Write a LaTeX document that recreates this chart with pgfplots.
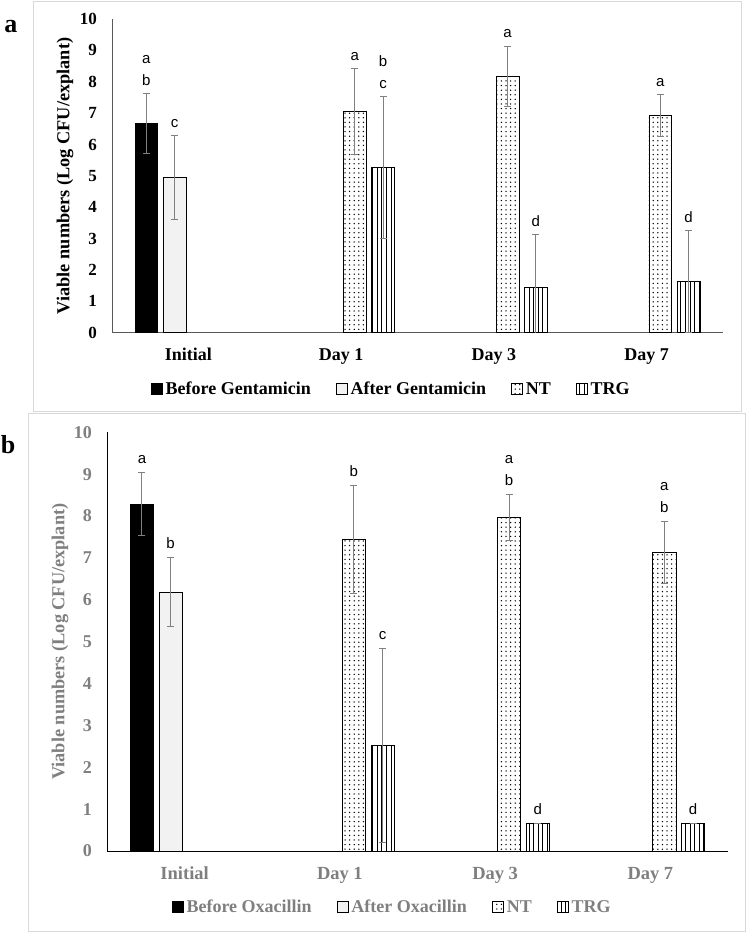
\documentclass[border=0pt]{standalone}
\usepackage{fontspec}
\setmainfont{Liberation Serif}
\newfontfamily\lettersf{Liberation Sans}
\usepackage{pgfplots}
\usepackage{pgfplotstable}
\pgfplotsset{compat=1.18}
\usetikzlibrary{patterns.meta}

\definecolor{axgray}{HTML}{595959}
\definecolor{txtgray}{HTML}{7F7F7F}
\definecolor{errgray}{HTML}{808080}
\definecolor{lightfill}{HTML}{F2F2F2}
\definecolor{framegray}{HTML}{D9D9D9}

% Panel a: Gentamicin
\pgfplotstableread{
x y err
0 6.67 0.96
}\Abefore
\pgfplotstableread{
x y err
0 4.94 1.34
}\Aafter
\pgfplotstableread{
x y err
1 7.04 1.37
2 8.18 0.96
3 6.93 0.67
}\Ant
\pgfplotstableread{
x y err
1 5.27 2.25
2 1.45 1.68
3 1.64 1.63
}\Atrg

% Panel b: Oxacillin
\pgfplotstableread{
x y err
0 8.29 0.76
}\Bbefore
\pgfplotstableread{
x y err
0 6.18 0.82
}\Bafter
\pgfplotstableread{
x y err
1 7.44 1.28
2 7.97 0.55
3 7.12 0.74
}\Bnt
\pgfplotstableread{
x y err
1 2.52 2.31
2 0.66 0
3 0.66 0
}\Btrg

\pgfplotsset{
  panel/.style={
    scale only axis, ybar,
    ymin=0, ymax=10, xmin=-0.5, xmax=3.5,
    xtick={0,1,2,3}, xticklabels={Initial,Day 1,Day 3,Day 7},
    ytick={0,1,...,10},
    axis x line*=bottom, axis y line*=left,
    major tick length=0pt,
    bar width=0.15,
    /pgf/number format/assume math mode=true,
    yticklabel style={font=\bfseries\fontsize{17}{17}\selectfont, anchor=east, inner sep=0pt, xshift=-15pt},
    xticklabel style={font=\bfseries\fontsize{18}{18}\selectfont, anchor=base, inner sep=0pt, yshift=-28pt},
    every axis y label/.style={at={(axis description cs:0,0.5)}, xshift=-47pt, rotate=90, anchor=center,
      font=\bfseries\fontsize{18.3}{18.3}\selectfont},
    ylabel={Viable numbers (Log CFU/explant)},
    error bars/y dir=both, error bars/y explicit,
    error bars/error bar style={errgray, line width=0.9pt},
    error bars/error mark options={rotate=90, errgray, mark size=3.5pt, line width=0.9pt},
    legend columns=4,
    legend style={draw=none, fill=none, font=\bfseries\fontsize{18}{18}\selectfont,
      anchor=center, inner sep=0pt,
      /tikz/every even column/.append style={column sep=22pt},
      nodes={inner xsep=3pt, inner ysep=0pt}},
  },
  lgbox/.style={legend image code/.code={\draw[##1, draw=black, line width=0.8pt] (0pt,-5.5pt) rectangle (11pt,5.5pt);}},
  sbefore/.style={fill=black, draw=black, line width=0.8pt, bar shift=-0.275, lgbox},
  safter/.style={fill=lightfill, draw=black, line width=0.8pt, bar shift=-0.09, lgbox},
  snt/.style={draw=black, line width=0.8pt, bar shift=0.09, pattern={Dots[distance=4.6pt, radius=0.75pt]}, pattern color=black, lgbox},
  strg/.style={draw=black, line width=0.8pt, bar shift=0.275, pattern={Lines[angle=90, distance=4.6pt, line width=0.9pt]}, pattern color=black, lgbox},
}

\tikzset{
  lt/.style={font=\lettersf\fontsize{15}{15}\selectfont, anchor=base, inner sep=0pt, text=black},
}

\begin{document}
\begin{tikzpicture}
\useasboundingbox (0pt,0pt) rectangle (746pt,-932pt);
\draw[framegray, line width=0.8pt] (33pt,-1pt) rectangle (741pt,-411pt);
\draw[framegray, line width=0.8pt] (28pt,-413pt) rectangle (745pt,-931pt);
\node[font=\bfseries\fontsize{26}{26}\selectfont, anchor=base] at (11pt,-32pt) {a};
\node[font=\bfseries\fontsize{26}{26}\selectfont, anchor=base] at (8pt,-453pt) {b};

% ---------- a ----------
\begin{axis}[panel, at={(112pt,-332.7pt)}, anchor=south west,
  width=611pt, height=313.7pt,
  axis line style={axgray, line width=0.9pt},
  legend style={at={(axis description cs:0.458,-0.1795)}}]
\addplot[sbefore] table[x=x, y=y, y error=err] {\Abefore};
\addlegendentry{Before Gentamicin}
\addplot[safter] table[x=x, y=y, y error=err] {\Aafter};
\addlegendentry{After Gentamicin}
\addplot[snt] table[x=x, y=y, y error=err] {\Ant};
\addlegendentry{NT}
\addplot[strg] table[x=x, y=y, y error=err] {\Atrg};
\addlegendentry{TRG}

\node[lt, yshift=8pt]  at (axis cs:-0.275,7.63) {b};
\node[lt, yshift=30pt] at (axis cs:-0.275,7.63) {a};
\node[lt, yshift=8pt]  at (axis cs:-0.09,6.28) {c};
\node[lt, yshift=8pt]  at (axis cs:1.09,8.41) {a};
\node[lt, yshift=8pt]  at (axis cs:1.275,7.52) {c};
\node[lt, yshift=30pt] at (axis cs:1.275,7.52) {b};
\node[lt, yshift=8pt]  at (axis cs:2.09,9.14) {a};
\node[lt, yshift=8pt]  at (axis cs:2.275,3.13) {d};
\node[lt, yshift=8pt]  at (axis cs:3.09,7.60) {a};
\node[lt, yshift=8pt]  at (axis cs:3.275,3.27) {d};
\end{axis}

% ---------- b ----------
\begin{axis}[panel, at={(107pt,-851pt)}, anchor=south west,
  width=621pt, height=418.7pt,
  axis line style={black, line width=0.9pt},
  ticklabel style={text=txtgray},
  ylabel style={text=txtgray},
  yticklabel style={font=\bfseries\fontsize{18}{18}\selectfont},
  xticklabel style={font=\bfseries\fontsize{18.5}{18.5}\selectfont},
  legend style={at={(axis description cs:0.46,-0.1337)}, text=txtgray}]
\addplot[sbefore] table[x=x, y=y, y error=err] {\Bbefore};
\addlegendentry{Before Oxacillin}
\addplot[safter] table[x=x, y=y, y error=err] {\Bafter};
\addlegendentry{After Oxacillin}
\addplot[snt] table[x=x, y=y, y error=err] {\Bnt};
\addlegendentry{NT}
\addplot[strg] table[x=x, y=y, y error=err] {\Btrg};
\addlegendentry{TRG}

\node[lt, yshift=9pt]  at (axis cs:-0.275,9.05) {a};
\node[lt, yshift=9pt]  at (axis cs:-0.09,7.00) {b};
\node[lt, yshift=9pt]  at (axis cs:1.09,8.72) {b};
\node[lt, yshift=9pt]  at (axis cs:1.275,4.83) {c};
\node[lt, yshift=9pt]  at (axis cs:2.09,8.52) {b};
\node[lt, yshift=31pt] at (axis cs:2.09,8.52) {a};
\node[lt, yshift=9pt]  at (axis cs:2.275,0.66) {d};
\node[lt, yshift=9pt]  at (axis cs:3.09,7.86) {b};
\node[lt, yshift=31pt] at (axis cs:3.09,7.86) {a};
\node[lt, yshift=9pt]  at (axis cs:3.275,0.66) {d};
\end{axis}
\end{tikzpicture}
\end{document}
